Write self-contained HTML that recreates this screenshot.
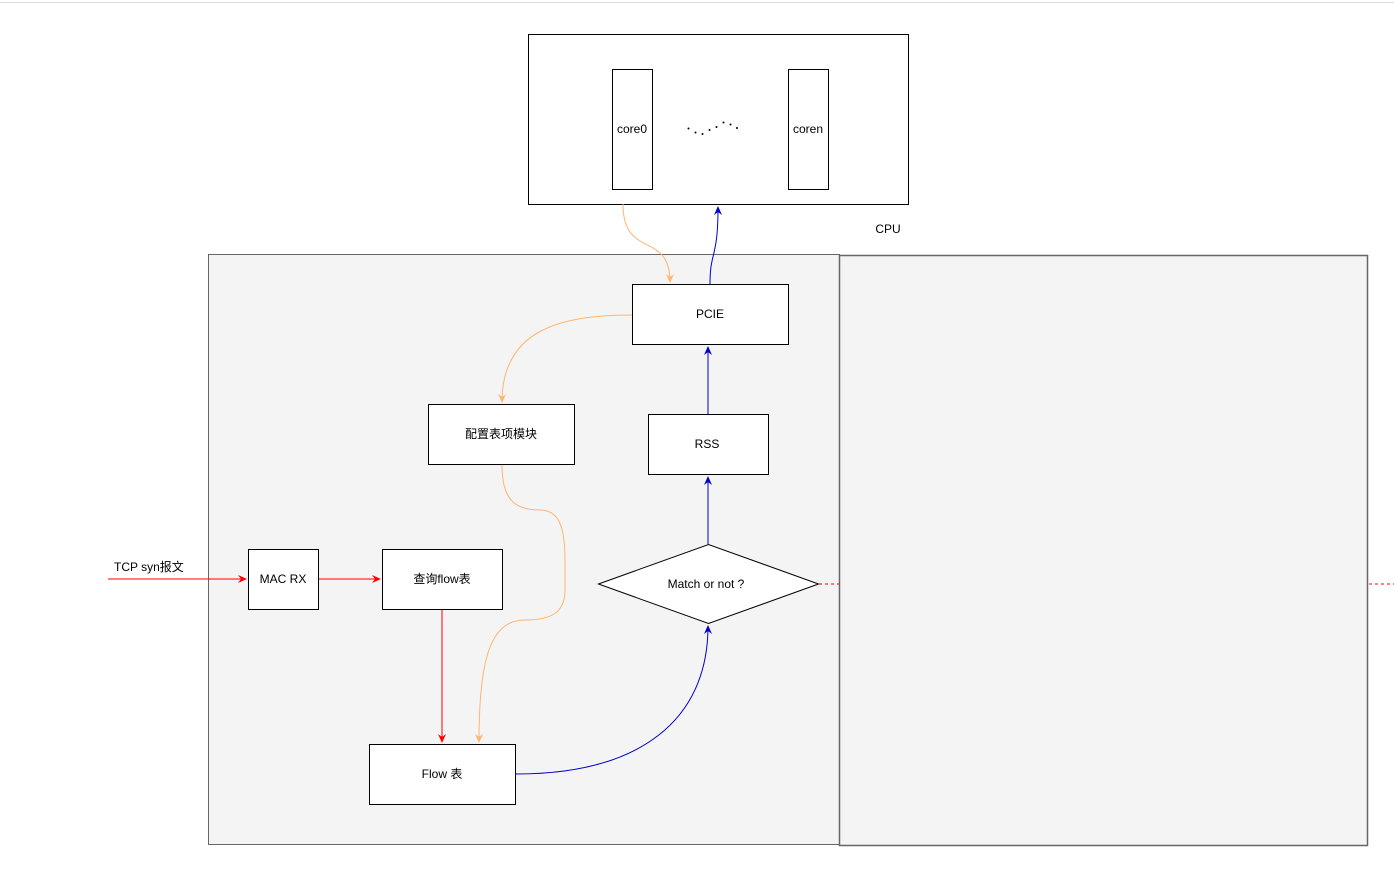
<!DOCTYPE html>
<html><head><meta charset="utf-8"><style>
html,body{margin:0;padding:0;background:#fff;}
svg text{font-family:"Liberation Sans","Noto Sans CJK SC",sans-serif;font-size:12px;fill:#000;}
</style></head><body>
<svg width="1394" height="875" viewBox="0 0 1394 875" xmlns="http://www.w3.org/2000/svg">
<defs>
<marker id="ar" markerWidth="10" markerHeight="10" refX="8" refY="5" orient="auto" markerUnits="userSpaceOnUse"><path d="M0,1 L9,5 L0,9 L3,5 Z" fill="#f00"/></marker>
<marker id="ab" markerWidth="10" markerHeight="10" refX="8" refY="5" orient="auto" markerUnits="userSpaceOnUse"><path d="M0,1 L9,5 L0,9 L3,5 Z" fill="#0000cc"/></marker>
<marker id="ao" markerWidth="10" markerHeight="10" refX="8" refY="5" orient="auto" markerUnits="userSpaceOnUse"><path d="M0,1 L9,5 L0,9 L3,5 Z" fill="#ffb570"/></marker>
</defs>
<line x1="0" y1="2.5" x2="1394" y2="2.5" stroke="#ddd"/>
<rect x="208.5" y="254.5" width="631" height="590" fill="#f4f4f4" stroke="#666"/>
<rect x="839.5" y="255.5" width="528" height="590" fill="#f4f4f4" stroke="#666" stroke-width="1.5"/>
<line x1="819" y1="584" x2="839" y2="584" stroke="#f00" stroke-dasharray="3,3"/>
<line x1="1369" y1="584" x2="1394" y2="584" stroke="#f00" stroke-dasharray="3,3"/>
<rect x="528.5" y="34.5" width="380" height="170" fill="#fff" stroke="#000"/>
<rect x="612.5" y="69.5" width="40" height="120" fill="#fff" stroke="#000"/>
<rect x="788.5" y="69.5" width="40" height="120" fill="#fff" stroke="#000"/>
<text x="632" y="133" text-anchor="middle">core0</text>
<text x="808" y="133" text-anchor="middle">coren</text>
<g fill="#000"><circle cx="688.5" cy="128.5" r="1"/><circle cx="695.5" cy="132.5" r="1"/><circle cx="702.5" cy="134" r="1"/><circle cx="709.5" cy="130" r="1"/><circle cx="716.5" cy="127" r="1"/><circle cx="723.5" cy="122.5" r="1"/><circle cx="730.5" cy="124.5" r="1"/><circle cx="737" cy="128" r="1"/></g>
<text x="888" y="233" text-anchor="middle">CPU</text>
<rect x="632.5" y="284.5" width="156" height="60" fill="#fff" stroke="#000"/>
<text x="710" y="318" text-anchor="middle">PCIE</text>
<rect x="428.5" y="404.5" width="146" height="60" fill="#fff" stroke="#000"/>
<text x="501" y="438" text-anchor="middle">配置表项模块</text>
<rect x="648.5" y="414.5" width="120" height="60" fill="#fff" stroke="#000"/>
<text x="707" y="448" text-anchor="middle">RSS</text>
<rect x="248.5" y="549.5" width="70" height="60" fill="#fff" stroke="#000"/>
<text x="283" y="583" text-anchor="middle">MAC RX</text>
<rect x="382.5" y="549.5" width="120" height="60" fill="#fff" stroke="#000"/>
<text x="442" y="583" text-anchor="middle">查询flow表</text>
<rect x="369.5" y="744.5" width="146" height="60" fill="#fff" stroke="#000"/>
<text x="442" y="778" text-anchor="middle">Flow 表</text>
<polygon points="598.5,584 708.5,544.5 818.5,584 708.5,623.5" fill="#fff" stroke="#000"/>
<text x="706" y="588" text-anchor="middle">Match or not ?</text>
<text x="114" y="571">TCP syn报文</text>
<line x1="108" y1="579" x2="246" y2="579" stroke="#f00" marker-end="url(#ar)"/>
<line x1="319" y1="579" x2="380" y2="579" stroke="#f00" marker-end="url(#ar)"/>
<line x1="442" y1="610" x2="442" y2="742" stroke="#f00" marker-end="url(#ar)"/>
<path d="M516,774 C640,774 708,720 708,626" fill="none" stroke="#0000cc" marker-end="url(#ab)"/>
<line x1="708" y1="544" x2="708" y2="477" stroke="#0000cc" marker-end="url(#ab)"/>
<line x1="708" y1="414" x2="708" y2="347" stroke="#0000cc" marker-end="url(#ab)"/>
<path d="M710,284 C710,250 718,260 718,207" fill="none" stroke="#0000cc" marker-end="url(#ab)"/>
<path d="M623,204 C623,260 670,230 670,282" fill="none" stroke="#ffb570" marker-end="url(#ao)"/>
<path d="M632,315 C560,315 502,330 502,402" fill="none" stroke="#ffb570" marker-end="url(#ao)"/>
<path d="M502,465 C502,500 515,510 540,510 C558,510 565,525 565,560 L565,590 C565,612 552,620 525,620 C490,620 479,660 479,742" fill="none" stroke="#ffb570" marker-end="url(#ao)"/>
</svg>
</body></html>
